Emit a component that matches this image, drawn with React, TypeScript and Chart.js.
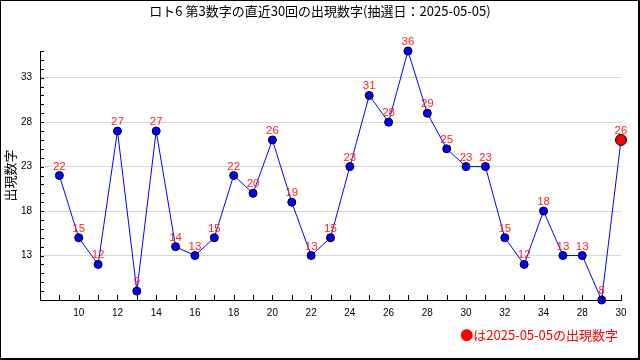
import React, { useEffect, useRef } from "react";
import { Chart, registerables } from "chart.js";

Chart.register(...registerables);

const TITLE = "ロト6 第3数字の直近30回の出現数字(抽選日：2025-05-05)";
const Y_TITLE = "出現数字";
const FOOTER = "●は2025-05-05の出現数字";

const xLabels = ["9","10","11","12","13","14","15","16","17","18","19","20","21","22","23","24","25","26","27","28","29","30","31","32","33","34","27","28","29","30"];
const values = [22,15,12,27,9,27,14,13,15,22,20,26,19,13,15,23,31,28,36,29,25,23,23,15,12,18,13,13,8,26];
const yLabeled = [13, 18, 23, 28, 33];

const CJK = '"Noto Sans CJK JP", "Noto Sans", sans-serif';
const SANS = '"Liberation Sans", Arial, sans-serif';

export default function App() {
  const ref = useRef<HTMLCanvasElement | null>(null);

  useEffect(() => {
    if (!ref.current) return;
    const last = values.length - 1;

    const decor = {
      id: "decor",
      beforeDraw(chart: any) {
        const ctx = chart.ctx;
        ctx.save();
        ctx.fillStyle = "#ffffff";
        ctx.fillRect(0, 0, chart.width, chart.height);
        ctx.restore();
      },
      afterDraw(chart: any) {
        const ctx = chart.ctx;
        const { left, bottom } = chart.chartArea;
        const xs = chart.scales.x;
        const ys = chart.scales.y;
        ctx.save();
        // inward ticks
        ctx.strokeStyle = "#000";
        ctx.lineWidth = 1;
        ctx.beginPath();
        for (let v = ys.min; v <= ys.max; v++) {
          const py = Math.round(ys.getPixelForValue(v)) + 0.5;
          ctx.moveTo(left, py);
          ctx.lineTo(left + 4, py);
        }
        for (let i = 0; i < values.length; i++) {
          const px = Math.round(xs.getPixelForValue(i)) + 0.5;
          ctx.moveTo(px, bottom);
          ctx.lineTo(px, bottom - 5);
        }
        ctx.stroke();

        // data labels
        const meta = chart.getDatasetMeta(0);
        ctx.fillStyle = "#ff2222";
        ctx.font = `11.5px ${SANS}`;
        ctx.textAlign = "center";
        ctx.textBaseline = "alphabetic";
        meta.data.forEach((pt: any, i: number) => {
          ctx.fillText(String(values[i]), pt.x, pt.y - 6);
        });

        // title
        ctx.fillStyle = "#000";
        ctx.font = `13px ${CJK}`;
        ctx.textBaseline = "middle";
        ctx.fillText(TITLE, 320, 11);

        // y title
        ctx.save();
        ctx.translate(10, (chart.chartArea.top + bottom) / 2);
        ctx.rotate(-Math.PI / 2);
        ctx.fillText(Y_TITLE, 0, 0);
        ctx.restore();

        // footer
        ctx.fillStyle = "#ff0000";
        ctx.textAlign = "right";
        ctx.fillText(FOOTER, 618, 335);

        // frame
        ctx.fillStyle = "#000";
        ctx.fillRect(0, 0, chart.width, 1);
        ctx.fillRect(0, 0, 1, chart.height);
        ctx.fillRect(chart.width - 2, 0, 2, chart.height);
        ctx.fillRect(0, chart.height - 2, chart.width, 2);
        ctx.restore();
      },
    };

    const chart = new Chart(ref.current, {
      type: "line",
      data: {
        datasets: [
          {
            data: values.map((v, i) => ({ x: i, y: v })),
            borderColor: "#0000ff",
            borderWidth: 1,
            pointBackgroundColor: values.map((_, i) => (i === last ? "#ff0000" : "#0000ff")),
            pointBorderColor: "#000000",
            pointBorderWidth: 1,
            pointRadius: values.map((_, i) => (i === last ? 5.5 : 4)),
            tension: 0,
            clip: false,
          },
        ],
      },
      options: {
        responsive: false,
        animation: false,
        layout: { padding: { top: 51, right: 19, left: 0, bottom: 0 } },
        plugins: { legend: { display: false }, tooltip: { enabled: false }, title: { display: false } },
        scales: {
          x: {
            type: "linear",
            min: -1,
            max: 29,
            afterFit: (s: any) => { s.height = 60; },
            grid: { display: false, drawTicks: false },
            border: { display: true, color: "#000", width: 1 },
            ticks: {
              stepSize: 1,
              autoSkip: false,
              maxRotation: 0,
              padding: 7,
              color: "#000",
              font: { family: SANS, size: 10 },
              callback: (v: any) => {
                const i = Number(v);
                return i >= 0 && i % 2 === 1 ? xLabels[i] : "";
              },
            },
          },
          y: {
            min: 8,
            max: 36,
            afterFit: (s: any) => { s.width = 40; },
            grid: {
              drawTicks: false,
              color: (c: any) => (yLabeled.includes(c.tick?.value) ? "#d8d8d8" : "rgba(0,0,0,0)"),
              lineWidth: 1,
            },
            border: { display: true, color: "#000", width: 1 },
            ticks: {
              stepSize: 1,
              autoSkip: false,
              padding: 8,
              color: "#000",
              font: { family: SANS, size: 10 },
              callback: (v: any) => (yLabeled.includes(Number(v)) ? String(v) : ""),
            },
          },
        },
      },
      plugins: [decor],
    } as any);

    return () => chart.destroy();
  }, []);

  return (
    <div style={{ position: "absolute", left: 0, top: 0, width: 640, height: 360 }}>
      <canvas ref={ref} width={640} height={360} style={{ width: 640, height: 360, display: "block" }} />
    </div>
  );
}
